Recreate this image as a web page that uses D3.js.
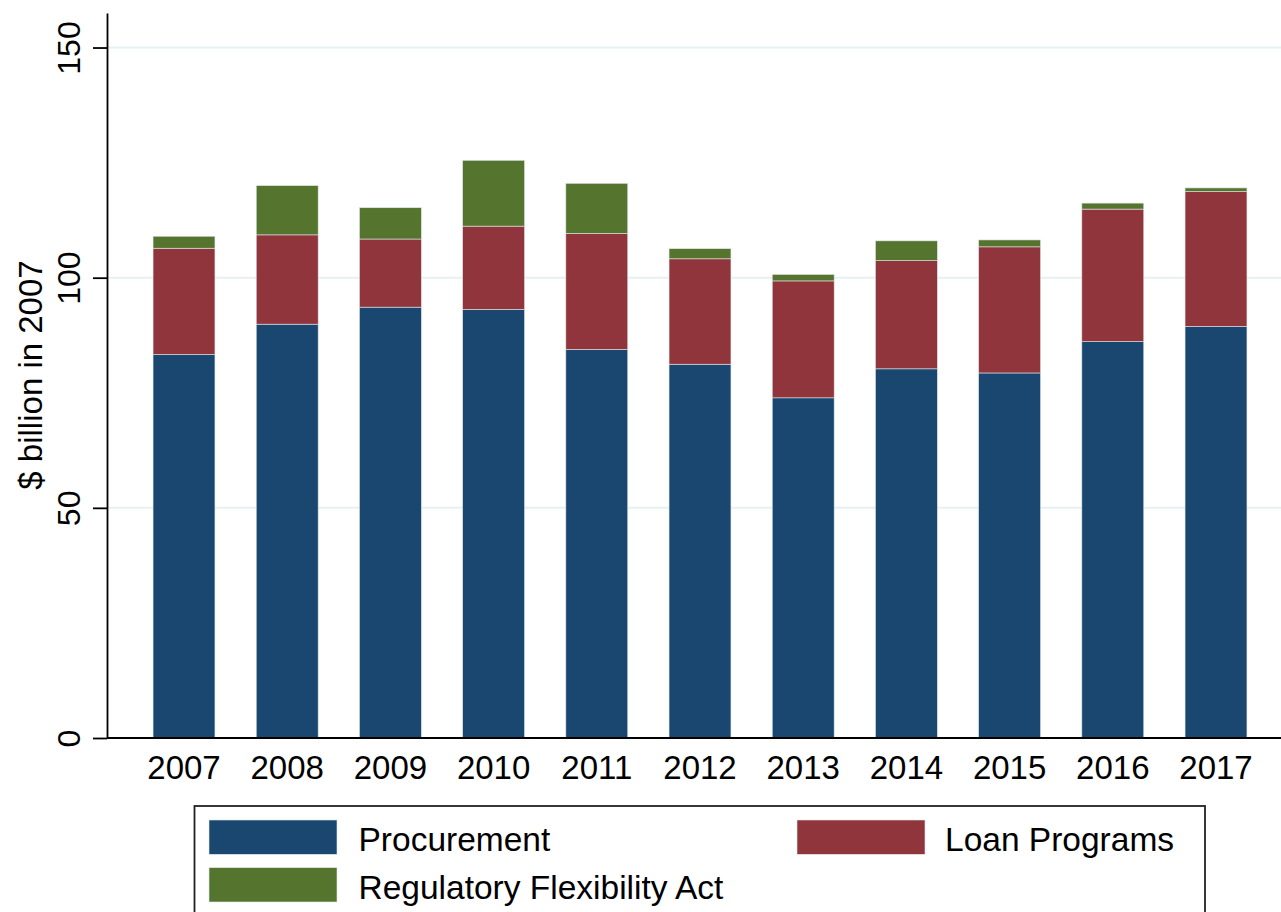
<!DOCTYPE html>
<html>
<head>
<meta charset="utf-8">
<script src="https://cdn.jsdelivr.net/npm/d3@7"></script>
<style>
  html, body { margin: 0; padding: 0; background: #fff; }
  svg { display: block; }
  text { font-family: "Liberation Sans", Arial, Helvetica, sans-serif; fill: #000; }
</style>
</head>
<body>
<svg id="chart" width="1281" height="912"></svg>
<script>
// ---- data ----
const years = ["2007","2008","2009","2010","2011","2012","2013","2014","2015","2016","2017"];
const procurement = [83.3, 89.9, 93.6, 93.1, 84.4, 81.2, 73.9, 80.2, 79.3, 86.1, 89.4];
const loanPrograms = [23.1, 19.4, 14.8, 18.1, 25.2, 22.9, 25.4, 23.5, 27.4, 28.8, 29.3];
const regulatoryFlexibilityAct = [2.6, 10.7, 6.8, 14.3, 10.9, 2.2, 1.4, 4.3, 1.5, 1.3, 0.8];
const seriesNames = ["Procurement", "Loan Programs", "Regulatory Flexibility Act"];
const seriesColors = ["#1a476f", "#90353b", "#55752f"];
const yTicks = [0, 50, 100, 150];
const yTitle = "$ billion in 2007";

// ---- build ----
const rows = years.map((y, i) => ({
  year: y,
  "Procurement": procurement[i],
  "Loan Programs": loanPrograms[i],
  "Regulatory Flexibility Act": regulatoryFlexibilityAct[i]
}));
const stacked = d3.stack().keys(seriesNames)(rows);

const svg = d3.select("#chart");
const axisX0 = 107, axisY0 = 738;

const x = d3.scaleBand().domain(years).range([132.4, 1267.6])
  .paddingInner(0.4).paddingOuter(0.2);
const y = d3.scaleLinear().domain([0, 157.5]).range([axisY0, 13]);
const color = d3.scaleOrdinal().domain(seriesNames).range(seriesColors);

// gridlines
svg.append("g").selectAll("line").data(yTicks.filter(d => d > 0)).join("line")
  .attr("x1", axisX0 + 1).attr("x2", 1281)
  .attr("y1", d => y(d)).attr("y2", d => y(d))
  .attr("stroke", "#e6f0f2").attr("stroke-width", 2);

// bars
svg.append("g").selectAll("g").data(stacked).join("g")
  .attr("fill", d => color(d.key))
  .selectAll("rect").data(d => d).join("rect")
  .attr("x", d => x(d.data.year))
  .attr("width", x.bandwidth())
  .attr("y", d => y(d[1]))
  .attr("height", d => y(d[0]) - y(d[1]))
  .attr("stroke", "#dfe6ea").attr("stroke-width", 0.6);

// y axis
const yAxis = svg.append("g").attr("transform", `translate(${axisX0},0)`)
  .call(d3.axisLeft(y).tickValues(yTicks).tickSize(14).tickSizeOuter(0));
yAxis.select(".domain").attr("stroke", "#000").attr("stroke-width", 1.8);
yAxis.selectAll(".tick line").attr("stroke", "#000").attr("stroke-width", 1.8);
yAxis.selectAll(".tick text")
  .attr("x", null).attr("dy", null)
  .attr("transform", "translate(-27,0) rotate(-90)")
  .attr("text-anchor", "middle")
  .style("font-size", "32px")
  .style("font-family", '"Liberation Sans", Arial, Helvetica, sans-serif');

// x axis
svg.append("line").attr("x1", axisX0).attr("x2", 1281)
  .attr("y1", axisY0).attr("y2", axisY0)
  .attr("stroke", "#000").attr("stroke-width", 1.8);
const xAxis = svg.append("g").attr("transform", `translate(0,${axisY0})`)
  .call(d3.axisBottom(x).tickSize(0).tickPadding(17.6));
xAxis.select(".domain").remove();
xAxis.selectAll(".tick text")
  .style("font-size", "33px")
  .style("font-family", '"Liberation Sans", Arial, Helvetica, sans-serif');

// y title
svg.append("text")
  .attr("transform", `translate(42,${375}) rotate(-90)`)
  .attr("text-anchor", "middle")
  .style("font-size", "33px")
  .text(yTitle);

// legend
const lg = svg.append("g");
lg.append("rect").attr("x", 194.5).attr("y", 806).attr("width", 1010.5).attr("height", 200)
  .attr("fill", "#fff").attr("stroke", "#222").attr("stroke-width", 1.8);
const legendPos = [
  { sx: 209, tx: 358.5, sy: 820 },
  { sx: 797, tx: 945, sy: 820 },
  { sx: 209, tx: 358.5, sy: 867.7 }
];
seriesNames.forEach((name, i) => {
  const p = legendPos[i];
  lg.append("rect").attr("x", p.sx).attr("y", p.sy).attr("width", 128).attr("height", 34.3)
    .attr("fill", color(name)).attr("stroke", "#dfe6ea").attr("stroke-width", 0.6);
  lg.append("text").attr("x", p.tx).attr("y", p.sy + 31)
    .style("font-size", "33.5px").text(name);
});
</script>
</body>
</html>
